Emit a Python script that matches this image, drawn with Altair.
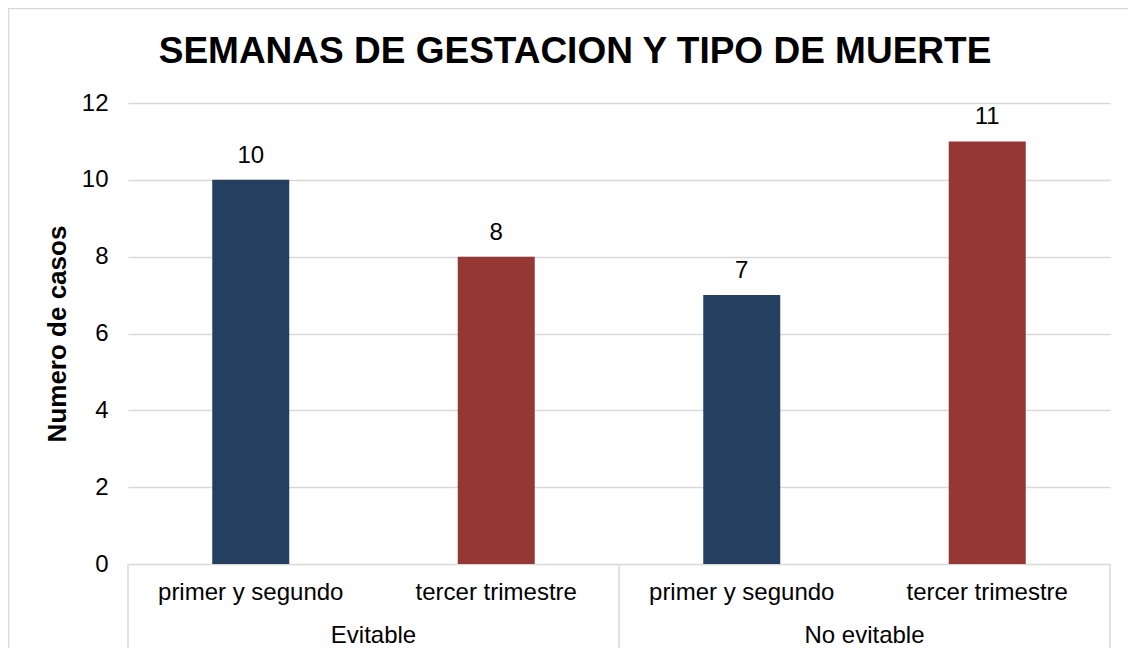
import altair as alt
import pandas as pd

# ---- data ----
groups = ["Evitable", "Evitable", "No evitable", "No evitable"]
subcats = ["primer y segundo", "tercer trimestre", "primer y segundo", "tercer trimestre"]
values = [10, 8, 7, 11]
sub_order = ["primer y segundo", "tercer trimestre"]
sub_colors = ["#243F60", "#953735"]
y_ticks = [0, 2, 4, 6, 8, 10, 12]
title_text = "SEMANAS DE GESTACION Y TIPO DE MUERTE"
y_title = "Numero de casos"

df = pd.DataFrame({
    "idx": list(range(len(values))),
    "group": groups,
    "sub": subcats,
    "value": values,
})

# group boundaries (category index space)
bounds = [0]
for i in range(1, len(groups)):
    if groups[i] != groups[i - 1]:
        bounds.append(i)
bounds.append(len(groups))
bdf = pd.DataFrame({"b": bounds})

FONT = "Liberation Sans"
W, H = 982, 461
GRID = "#d9d9d9"
FS = 24

xscale = alt.Scale(domain=[0, len(values)], nice=False, zero=False, padding=0)
yscale = alt.Scale(domain=[0, 12], nice=False)

base = alt.Chart(df).transform_calculate(pos="datum.idx + 0.5")

bars = base.mark_bar(size=77, orient="vertical").encode(
    x=alt.X("pos:Q", scale=xscale, axis=None),
    y=alt.Y(
        "value:Q",
        scale=yscale,
        axis=alt.Axis(
            values=y_ticks,
            title=y_title,
            titleFont=FONT,
            titleFontSize=26,
            titleFontWeight="bold",
            titleColor="#000000",
            titleAngle=270,
            titleAlign="center",
            titleBaseline="middle",
            titleX=-71,
            titleY=H / 2,
            labelFont=FONT,
            labelFontSize=FS,
            labelColor="#000000",
            labelPadding=20,
            ticks=False,
            tickSize=0,
            domain=False,
            grid=True,
            gridColor=GRID,
            gridWidth=1.5,
        ),
    ),
    color=alt.Color("sub:N", scale=alt.Scale(domain=sub_order, range=sub_colors), legend=None),
)

value_labels = base.mark_text(
    font=FONT, fontSize=FS, color="#000000", baseline="alphabetic", dy=-17
).encode(
    x=alt.X("pos:Q", scale=xscale, axis=None),
    y=alt.Y("value:Q", scale=yscale),
    text=alt.Text("value:Q"),
)

sub_labels = base.mark_text(
    font=FONT, fontSize=FS, color="#000000", baseline="alphabetic"
).encode(
    x=alt.X("pos:Q", scale=xscale, axis=None),
    y=alt.value(H + 36),
    text="sub:N",
)

group_labels = (
    alt.Chart(df)
    .transform_calculate(pos="datum.idx + 0.5")
    .transform_aggregate(center="mean(pos)", groupby=["group"])
    .mark_text(font=FONT, fontSize=FS, color="#000000", baseline="alphabetic")
    .encode(
        x=alt.X("center:Q", scale=xscale, axis=None),
        y=alt.value(H + 79),
        text="group:N",
    )
)

separators = alt.Chart(bdf).mark_rule(color=GRID, strokeWidth=1.5).encode(
    x=alt.X("b:Q", scale=xscale, axis=None),
    y=alt.value(H),
    y2=alt.value(H + 84),
)

frame = alt.Chart(pd.DataFrame({"a": [0]})).mark_rect(
    fill="transparent", stroke=GRID, strokeWidth=1.5
).encode(
    x=alt.value(-119.5),
    x2=alt.value(W + 60),
    y=alt.value(-94.5),
    y2=alt.value(H + 140),
)

title = alt.Chart(pd.DataFrame({"t": [title_text]})).mark_text(
    font=FONT, fontSize=37, fontWeight="bold", color="#000000",
    align="center", baseline="alphabetic"
).encode(
    x=alt.value(447),
    y=alt.value(-40),
    text="t:N",
)

chart = (
    alt.layer(frame, bars, value_labels, sub_labels, group_labels, separators, title)
    .properties(
        width=W,
        height=H,
        autosize=alt.AutoSizeParams(type="none"),
        padding={"left": 120, "top": 95, "right": 18, "bottom": 84},
        background="white",
    )
    .configure_view(stroke=None)
)

chart.save("out.html", embed_options={"renderer": "svg", "actions": False})
